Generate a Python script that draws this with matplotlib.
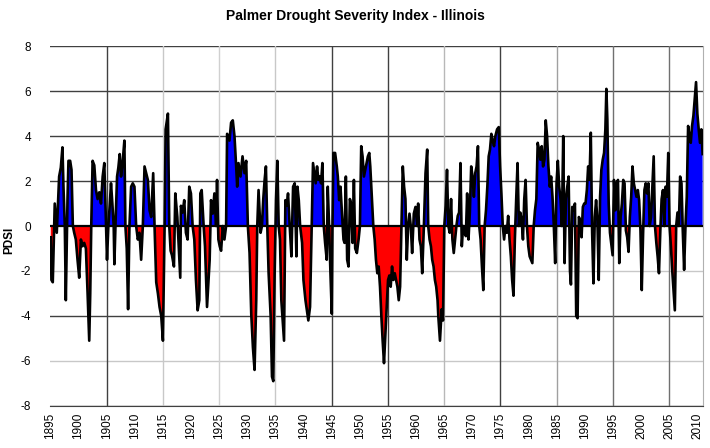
import matplotlib
matplotlib.use("Agg")
import matplotlib.pyplot as plt
import numpy as np

plt.rcParams['font.family'] = ['Liberation Sans', 'DejaVu Sans']
plt.rcParams['axes.unicode_minus'] = False

# (year, PDSI), roughly quarterly
pdsi_1895_1917 = [
    (1895.06, -0.5), (1895.18, -2.4), (1895.42, -2.5), (1895.77, 1.0), (1896.13, -0.3),
    (1896.55, 2.2), (1896.85, 2.6), (1897.14, 3.5), (1897.32, 1.75), (1897.56, 0.0),
    (1897.74, -3.3), (1898.04, 1.2), (1898.21, 2.9), (1898.51, 2.9), (1898.75, 2.5),
    (1898.99, 0.0), (1899.23, -0.3), (1899.52, -0.6), (1899.82, -1.5), (1900.12, -2.3),
    (1900.42, -0.6), (1900.71, -0.9), (1901.01, -0.75), (1901.31, -1.0), (1901.61, -3.0),
    (1901.9, -5.1), (1902.08, -3.0), (1902.26, 0.0), (1902.5, 2.9), (1902.8, 2.7),
    (1903.1, 1.6), (1903.39, 1.2), (1903.69, 1.5), (1903.99, 1.0), (1904.29, 2.2),
    (1904.58, 2.8), (1904.88, 0.2), (1905.06, -1.5), (1905.3, 0.0), (1905.54, 0.9),
    (1905.77, 1.9), (1906.01, 1.0), (1906.25, 0.0), (1906.37, -1.7), (1906.61, 0.4),
    (1906.85, 2.2), (1907.08, 2.6), (1907.32, 3.2), (1907.56, 2.2), (1907.86, 2.9),
    (1908.15, 3.8), (1908.33, 0.0), (1908.57, -1.0), (1908.81, -3.7), (1909.05, 0.0),
    (1909.35, 1.75), (1909.64, 1.9), (1909.94, 1.75), (1910.24, 0.0), (1910.54, -0.6),
    (1910.83, -0.3), (1911.13, -1.5), (1911.43, 0.0), (1911.73, 2.65), (1912.02, 2.35),
    (1912.32, 2.05), (1912.62, 0.7), (1912.92, 0.4), (1913.27, 2.35), (1913.51, 0.0),
    (1913.81, -2.5), (1914.11, -3.0), (1914.4, -3.6), (1914.7, -4.0), (1915.0, -5.1),
    (1915.3, 0.0), (1915.48, 4.3), (1915.89, 5.0), (1916.13, 0.0), (1916.37, -1.1),
    (1916.61, -1.3), (1916.96, -1.8), (1917.2, 1.45), (1917.56, 0.4),
]
pdsi_1918_1940 = [
    (1918.08, -2.3), (1918.2, 0.9), (1918.49, 0.6), (1918.79, 1.15), (1919.09, -0.3),
    (1919.39, -0.6), (1919.68, 1.75), (1919.98, 1.45), (1920.28, 0.0), (1920.58, -0.6),
    (1920.87, -2.4), (1921.17, -3.75), (1921.47, -3.3), (1921.65, 1.45), (1921.89, 1.6),
    (1922.24, 0.0), (1922.48, -0.9), (1922.84, -3.6), (1923.08, -2.5), (1923.31, -1.5),
    (1923.55, 1.15), (1923.85, 0.55), (1924.15, 1.45), (1924.45, 0.0), (1924.62, 2.05),
    (1924.86, -0.6), (1925.1, -0.9), (1925.34, -1.1), (1925.64, 0.0), (1925.93, -0.6),
    (1926.23, 0.0), (1926.41, 4.1), (1926.83, 3.8), (1927.12, 4.6), (1927.42, 4.7),
    (1927.72, 4.0), (1928.02, 2.65), (1928.2, 1.75), (1928.43, 2.8), (1928.79, 2.2),
    (1929.15, 3.1), (1929.5, 2.35), (1929.8, 2.9), (1930.1, 0.0), (1930.4, -1.2),
    (1930.7, -3.9), (1931.0, -5.4), (1931.29, -6.4), (1931.59, -3.3), (1931.77, 0.0),
    (1932.0, 1.6), (1932.36, -0.3), (1932.6, 0.0), (1932.84, 1.2), (1933.08, 2.05),
    (1933.31, 2.65), (1933.55, 0.0), (1933.79, -2.1), (1934.15, -4.0), (1934.39, -6.7),
    (1934.62, -6.9), (1934.86, -2.1), (1935.1, 1.15), (1935.34, 2.9), (1935.58, 0.0),
    (1935.81, -0.6), (1936.05, -3.3), (1936.53, -5.1), (1936.77, 1.15), (1937.0, 0.9),
    (1937.24, 1.45), (1937.54, 0.0), (1937.84, -1.35), (1938.14, 1.75), (1938.43, 1.9),
    (1938.73, -1.35), (1938.91, 1.75), (1939.15, 1.15), (1939.39, 0.0), (1939.74, -0.75),
    (1939.98, -2.4), (1940.34, -3.3),
]
pdsi_1941_1963 = [
    (1940.85, -4.2), (1941.15, -3.6), (1941.45, 0.0), (1941.68, 2.8), (1941.92, 2.35),
    (1942.16, 1.9), (1942.4, 2.65), (1942.64, 2.05), (1942.87, 2.2), (1943.11, 1.9),
    (1943.35, 2.8), (1943.59, 0.0), (1943.83, -0.75), (1944.12, -1.5), (1944.3, 1.75),
    (1944.54, 0.0), (1944.78, -2.1), (1945.02, -3.9), (1945.14, 0.0), (1945.31, 3.25),
    (1945.61, 3.25), (1945.91, 2.65), (1946.09, 2.2), (1946.33, 1.15), (1946.56, 1.75),
    (1946.8, 0.7), (1947.1, -0.6), (1947.28, -0.75), (1947.52, 2.2), (1947.75, -1.5),
    (1947.99, -1.8), (1948.23, 1.2), (1948.47, 1.0), (1948.71, -0.75), (1948.95, 2.05),
    (1949.18, -1.0), (1949.48, -1.2), (1949.78, -0.6), (1950.02, 0.0), (1950.25, 3.55),
    (1950.49, 3.1), (1950.73, 2.2), (1951.09, 2.65), (1951.44, 3.1), (1951.68, 3.25),
    (1951.86, 2.65), (1952.16, 1.2), (1952.4, 0.0), (1952.64, -0.6), (1952.87, -1.5),
    (1953.11, -2.1), (1953.35, -1.8), (1953.59, -2.7), (1953.83, -4.0), (1954.06, -5.1),
    (1954.3, -6.1), (1954.54, -4.8), (1954.78, -3.6), (1955.02, -2.4), (1955.25, -2.2),
    (1955.49, -2.7), (1955.73, -1.8), (1955.97, -2.4), (1956.21, -2.1), (1956.45, -2.4),
    (1956.68, -2.7), (1956.92, -3.3), (1957.16, -2.7), (1957.4, 0.0), (1957.64, 2.65),
    (1957.87, 1.75), (1958.11, 1.2), (1958.35, -1.5), (1958.59, 0.0), (1958.83, 0.55),
    (1959.06, 0.0), (1959.3, -1.2), (1959.6, 0.55), (1959.9, 0.85), (1960.2, 0.0),
    (1960.37, 1.0), (1960.61, -0.6), (1960.85, -0.9), (1961.09, -2.1), (1961.39, 0.0),
    (1961.68, 2.35), (1961.98, 3.4), (1962.16, 0.0), (1962.4, -0.6), (1962.64, -0.9),
    (1962.87, -1.5), (1963.11, -1.8), (1963.35, -2.4), (1963.58, -2.7), (1963.82, -3.3),
]
pdsi_1964_1987 = [
    (1963.95, -4.0), (1964.25, -5.1), (1964.55, -3.7), (1964.79, -4.2), (1965.02, 0.0),
    (1965.26, 0.9), (1965.5, 2.5), (1965.74, 0.0), (1965.98, -0.3), (1966.22, 1.2),
    (1966.46, -0.6), (1966.7, -1.2), (1966.94, -0.6), (1967.17, 0.0), (1967.41, 0.45),
    (1967.65, 0.6), (1967.89, 2.8), (1968.13, -0.9), (1968.37, 0.0), (1968.61, -0.3),
    (1968.85, -0.45), (1969.08, 1.45), (1969.32, -0.6), (1969.56, 0.6), (1969.8, 2.65),
    (1970.04, 2.2), (1970.28, 1.3), (1970.52, 2.35), (1970.76, 2.65), (1971.0, 3.55),
    (1971.23, 0.0), (1971.47, -0.6), (1971.71, -1.8), (1971.95, -2.85), (1972.19, 0.0),
    (1972.43, 0.7), (1972.67, 1.75), (1972.91, 3.1), (1973.14, 3.4), (1973.38, 4.1),
    (1973.62, 3.8), (1973.86, 3.55), (1974.1, 4.0), (1974.4, 4.3), (1974.7, 4.4),
    (1974.94, 2.65), (1975.17, 1.45), (1975.41, 0.0), (1975.65, -0.6), (1975.89, 0.0),
    (1976.13, -0.3), (1976.37, 0.45), (1976.61, -0.6), (1976.85, -1.35), (1977.08, -2.4),
    (1977.32, -3.1), (1977.56, -0.6), (1977.8, 1.2), (1978.04, 2.8), (1978.28, 0.0),
    (1978.52, 0.6), (1978.76, 0.3), (1979.0, -0.6), (1979.23, 1.2), (1979.47, 2.05),
    (1979.71, 0.0), (1979.95, -0.9), (1980.19, -1.35), (1980.43, -1.5), (1980.67, -1.65),
    (1980.91, 0.0), (1981.14, 0.7), (1981.38, 1.2), (1981.62, 3.7), (1981.86, 3.4),
    (1982.1, 2.95), (1982.34, 3.55), (1982.58, 2.65), (1982.82, 2.95), (1983.05, 4.7),
    (1983.29, 4.0), (1983.53, 2.65), (1983.77, 1.75), (1984.01, 2.2), (1984.25, 1.3),
    (1984.49, 0.0), (1984.73, -1.65), (1984.97, 1.9), (1985.2, 2.9), (1985.44, 1.75),
    (1985.68, 1.2), (1985.92, 0.0), (1986.16, 4.0), (1986.4, -1.65), (1986.64, 1.2),
    (1986.88, 1.75), (1987.12, 2.2),
]
pdsi_1987_2010 = [
    (1987.36, -2.0), (1987.53, -2.6), (1987.77, 0.85), (1988.0, 0.7), (1988.24, 1.0),
    (1988.47, -4.0), (1988.71, -4.1), (1988.94, 0.4), (1989.18, 0.25), (1989.42, -0.5),
    (1989.65, 0.85), (1989.89, 1.0), (1990.12, 1.0), (1990.36, 1.6), (1990.59, 2.65),
    (1990.83, 2.05), (1991.06, 4.15), (1991.3, -0.3), (1991.53, -2.55), (1991.77, 0.4),
    (1992.0, 1.15), (1992.24, 0.25), (1992.47, -2.4), (1992.71, 1.3), (1992.94, 2.5),
    (1993.18, 2.95), (1993.42, 3.25), (1993.65, 4.3), (1993.83, 6.1), (1994.0, 4.75),
    (1994.24, 1.0), (1994.47, -0.3), (1994.71, -0.8), (1994.94, -1.3), (1995.18, 2.05),
    (1995.42, 0.7), (1995.65, 1.9), (1995.89, 2.05), (1996.12, -1.65), (1996.36, 0.4),
    (1996.59, 1.0), (1996.83, 2.05), (1997.06, 1.9), (1997.3, -0.2), (1997.53, -0.5),
    (1997.77, -1.15), (1998.0, 0.4), (1998.24, 1.3), (1998.47, 2.65), (1998.71, 1.9),
    (1998.94, 1.6), (1999.18, 1.3), (1999.42, 1.6), (1999.65, 1.15), (1999.89, -0.2),
    (2000.12, -2.85), (2000.36, -0.3), (2000.59, 1.6), (2000.83, 1.9), (2001.06, 1.45),
    (2001.3, 1.9), (2001.53, 0.0), (2001.77, 0.4), (2002.0, 1.75), (2002.24, 3.1),
    (2002.47, 0.0), (2002.71, -0.75), (2002.94, -1.35), (2003.18, -2.1), (2003.42, -0.2),
    (2003.65, 1.2), (2003.89, 1.6), (2004.12, 0.0), (2004.36, 1.75), (2004.59, 1.3),
    (2004.83, 3.25), (2005.06, 0.0), (2005.3, -0.9), (2005.53, -1.95), (2005.77, -2.85),
    (2006.0, -3.75), (2006.24, 0.0), (2006.47, 0.6), (2006.71, 0.0), (2006.94, 2.2),
    (2007.18, 1.9), (2007.41, -0.2), (2007.65, -1.95), (2007.89, 0.0), (2008.12, 1.3),
    (2008.36, 4.45), (2008.59, 4.0), (2008.83, 3.7), (2009.06, 4.45), (2009.3, 4.9),
    (2009.53, 5.65), (2009.77, 6.4), (2010.0, 5.0), (2010.24, 4.3), (2010.47, 3.7),
    (2010.71, 4.3), (2010.94, 3.2),
]

year_ticks = list(range(1895, 2011, 5))
pdsi_ticks = [-8, -6, -4, -2, 0, 2, 4, 6, 8]

rows = pdsi_1895_1917 + pdsi_1918_1940 + pdsi_1941_1963 + pdsi_1964_1987 + pdsi_1987_2010
t = np.array([r[0] for r in rows])
v = np.array([r[1] for r in rows])

fig = plt.figure(figsize=(7.1, 4.48), dpi=100)
ax = fig.add_axes([0.071, 0.094, 0.9187, 0.803])

# grid lines, shades follow the reference
hcol = {8: '#404040', 6: '#404040', 4: '#404040', 2: '#404040',
        -2: '#c8c8c8', -4: '#404040', -6: '#c8c8c8', -8: '#404040'}
for y, c in hcol.items():
    ax.axhline(y, color=c, lw=1.0, zorder=1)
vcol = {1905: '#404040', 1915: '#c8c8c8', 1925: '#d0d0d0', 1935: '#c8c8c8',
        1945: '#404040', 1955: '#404040', 1965: '#b8b8b8', 1975: '#404040',
        1985: '#a0a0a0', 1995: '#707070', 2005: '#707070'}
for x, c in vcol.items():
    ax.axvline(x, color=c, lw=1.0, zorder=1)

ax.fill_between(t, v, 0, where=v >= 0, interpolate=True, color='#0000ff', lw=0, zorder=2)
ax.fill_between(t, v, 0, where=v <= 0, interpolate=True, color='#ff0000', lw=0, zorder=2)
ax.plot(t, v, color='black', lw=1.9, zorder=3)
ax.axhline(0, color='black', lw=1.6, zorder=4)

ax.set_xlim(1895, 2010.95)
ax.set_ylim(-8, 8)
ax.set_xticks(year_ticks)
ax.set_xticklabels([str(y) for y in year_ticks], rotation=90, fontsize=8.5)
ax.set_yticks(pdsi_ticks)
ax.set_yticklabels([str(y) for y in pdsi_ticks], fontsize=8.5)
ax.tick_params(axis='both', length=0)
ax.tick_params(axis='y', pad=14)
ax.tick_params(axis='x', pad=5)

ax.spines['left'].set_visible(False)
ax.spines['top'].set_visible(False)
ax.spines['bottom'].set_color('#404040')
ax.spines['right'].set_color('#b0b0b0')

ax.set_ylabel('PDSI', fontsize=8.5, fontweight='bold')
ax.yaxis.set_label_coords(-0.054, 0.46)

fig.text(0.5, 0.965, 'Palmer Drought Severity Index - Illinois', ha='center', va='center',
         fontsize=10, fontweight='bold')

fig.savefig('out.png', dpi=100)
